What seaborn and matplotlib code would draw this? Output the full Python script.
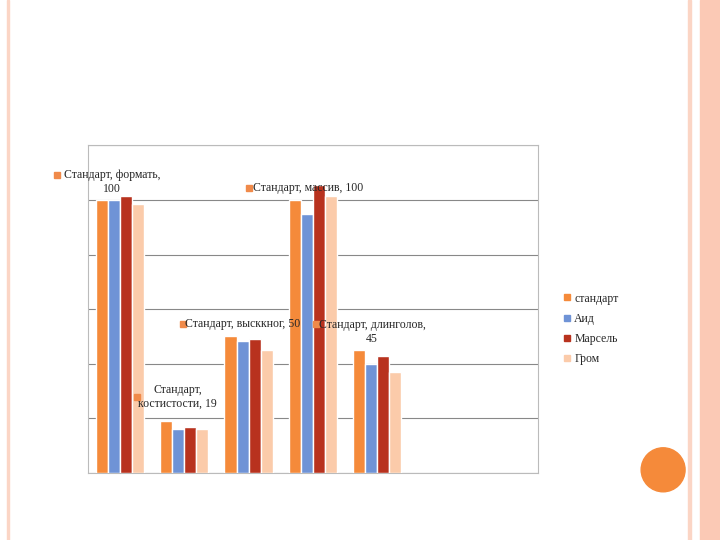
import matplotlib
matplotlib.use("Agg")
import matplotlib.pyplot as plt
import seaborn as sns
import pandas as pd
from matplotlib.patches import Rectangle, Ellipse
from matplotlib.lines import Line2D

categories = ["формать", "костистости", "высккног", "массив", "длинголов"]
series = ["стандарт", "Аид", "Марсель", "Гром"]
values = {
    "стандарт": [100, 19, 50, 100, 45],
    "Аид": [100, 16, 48.5, 95, 40],
    "Марсель": [101.5, 17, 49, 105.5, 43],
    "Гром": [98.5, 16, 45, 101.5, 37],
}
colors = ["#F58A3A", "#6F93D6", "#B8321E", "#FBCBAA"]

rows = [(c, s, values[s][i]) for s in series for i, c in enumerate(categories)]
df = pd.DataFrame(rows, columns=["cat", "ser", "val"])

sns.set_style("white")
plt.rcParams["font.family"] = ["Liberation Serif", "DejaVu Serif"]

fig = plt.figure(figsize=(7.2, 5.4), dpi=100)
fig.patches.append(Rectangle((0.972, 0), 0.028, 1, transform=fig.transFigure, color="#FBC9B5", zorder=0))
fig.patches.append(Rectangle((0.956, 0), 0.004, 1, transform=fig.transFigure, color="#FBD5C5", zorder=0))
fig.patches.append(Rectangle((0.010, 0), 0.002, 1, transform=fig.transFigure, color="#FBD5C5", zorder=0))
fig.patches.append(Ellipse((0.921, 0.13), 0.061, 0.0815, transform=fig.transFigure, color="#F58A3A", zorder=1))

ax = fig.add_axes([0.122, 0.124, 0.625, 0.607])
sns.barplot(data=df, x="cat", y="val", hue="ser", order=categories, hue_order=series,
            palette=colors, width=0.75, saturation=1, ax=ax, legend=False, zorder=3)
ax.set_xlim(-0.5, 6.5)
ax.set_ylim(0, 120)
ax.set_yticks(range(0, 121, 20))
ax.yaxis.grid(True, color="#888888", linewidth=0.8, zorder=0)
ax.set_axisbelow(True)
ax.tick_params(left=False, bottom=False, labelleft=False, labelbottom=False)
ax.set_xlabel("")
ax.set_ylabel("")
for sp in ax.spines.values():
    sp.set_color("#BBBBBB")
    sp.set_linewidth(0.8)

lab_kw = dict(fontsize=8.5, ha="center", va="center", clip_on=False, zorder=6)
labels = [
    (-0.12, 106.5, "Стандарт, формать,\n100"),
    (2.92, 104.5, "Стандарт, массив, 100"),
    (1.9, 54.6, "Стандарт, высккног, 50"),
    (3.92, 51.6, "Стандарт, длинголов,\n45"),
    (0.9, 27.8, "Стандарт,\nкостистости, 19"),
]
for x, y, t in labels:
    ax.text(x, y, t, **lab_kw)
sq = [(-0.98, 109.2), (2.0, 104.5), (0.98, 54.6), (3.05, 54.6), (0.27, 27.8)]
for x, y in sq:
    ax.plot([x], [y], marker="s", ms=4, color="#F08A4A", clip_on=False, zorder=5)

handles = [Line2D([], [], marker="s", ls="", ms=5, color=c) for c in colors]
fig.legend(handles, series, loc="upper left", bbox_to_anchor=(0.768, 0.478),
           frameon=False, fontsize=8.5, handlelength=0.6, handletextpad=0.3, labelspacing=0.7)

fig.savefig("out.png", dpi=100)
